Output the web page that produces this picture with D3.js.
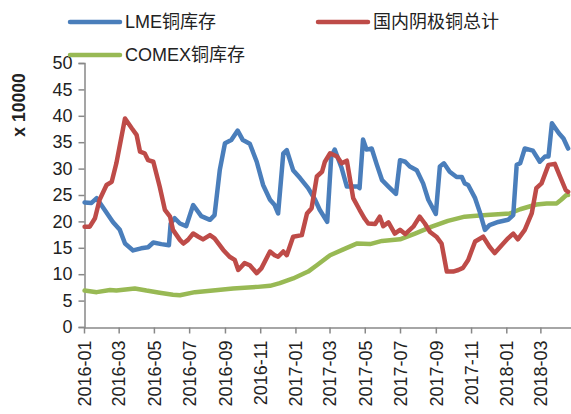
<!DOCTYPE html>
<html>
<head>
<meta charset="utf-8">
<script src="https://cdn.jsdelivr.net/npm/d3@7"></script>
<style>
  body { margin: 0; background: #fff; }
  svg { display: block; font-family: "Liberation Sans", Arial, sans-serif; }
</style>
</head>
<body>
<svg id="chart" width="571" height="414"></svg>
<script>
// series names
const seriesNames = ["LME铜库存", "国内阴极铜总计", "COMEX铜库存"];

// LME (blue)
const lmeDates = ["2016-01-02","2016-01-14","2016-01-23","2016-01-31","2016-02-20","2016-03-03","2016-03-12","2016-03-26","2016-04-09","2016-04-21","2016-04-30","2016-05-14","2016-05-27","2016-05-30","2016-06-06","2016-06-15","2016-06-26","2016-07-08","2016-07-22","2016-08-06","2016-08-14","2016-08-23","2016-09-01","2016-09-12","2016-09-23","2016-10-02","2016-10-14","2016-10-26","2016-11-06","2016-11-18","2016-11-26","2016-12-02","2016-12-11","2016-12-17","2016-12-28","2017-01-09","2017-01-23","2017-02-04","2017-02-12","2017-02-25","2017-03-04","2017-03-10","2017-03-22","2017-03-31","2017-04-19","2017-04-22","2017-04-28","2017-05-04","2017-05-13","2017-05-22","2017-05-31","2017-06-11","2017-06-24","2017-07-01","2017-07-10","2017-07-18","2017-07-30","2017-08-10","2017-08-19","2017-09-01","2017-09-08","2017-09-15","2017-09-25","2017-10-07","2017-10-16","2017-10-21","2017-10-27","2017-11-08","2017-11-16","2017-11-25","2017-12-03","2017-12-18","2018-01-04","2018-01-13","2018-01-19","2018-01-25","2018-02-02","2018-02-16","2018-02-28","2018-03-09","2018-03-15","2018-03-21","2018-04-02","2018-04-10","2018-04-18"];
const lmeValues = [23.6,23.5,24.4,23.1,19.9,18.4,15.8,14.5,14.9,15.1,16.0,15.7,15.5,19.6,20.6,19.6,19.1,23.1,21.0,20.3,21.2,29.7,34.8,35.4,37.2,35.4,34.7,31.3,26.9,24.1,23.1,21.5,32.9,33.5,29.7,28.2,26.3,24.1,22.2,19.9,32.3,33.6,30.1,26.6,26.6,26.3,35.5,33.6,33.8,30.7,27.8,26.6,25.2,31.6,31.3,30.4,29.7,27.2,24.1,21.4,30.4,31.0,29.4,28.4,28.4,27.2,26.9,24.4,21.8,18.4,19.3,19.9,20.3,21.2,30.7,31.0,33.8,33.4,31.3,32.3,32.3,38.6,36.7,35.7,33.8];

// 国内阴极铜总计 (red)
const cnDates = ["2016-01-02","2016-01-11","2016-01-20","2016-01-28","2016-02-09","2016-02-18","2016-02-26","2016-03-12","2016-03-24","2016-04-01","2016-04-07","2016-04-15","2016-04-21","2016-04-30","2016-05-11","2016-05-20","2016-05-29","2016-06-03","2016-06-15","2016-06-21","2016-06-29","2016-07-08","2016-07-17","2016-07-25","2016-08-06","2016-08-14","2016-08-29","2016-09-09","2016-09-18","2016-09-24","2016-10-05","2016-10-14","2016-10-26","2016-11-03","2016-11-18","2016-11-26","2016-12-02","2016-12-11","2016-12-17","2016-12-28","2017-01-12","2017-01-21","2017-01-29","2017-02-07","2017-02-16","2017-02-21","2017-03-02","2017-03-14","2017-03-22","2017-03-31","2017-04-11","2017-04-22","2017-05-01","2017-05-07","2017-05-19","2017-05-27","2017-06-02","2017-06-11","2017-06-22","2017-07-01","2017-07-10","2017-07-24","2017-08-04","2017-08-13","2017-08-22","2017-09-02","2017-09-11","2017-09-20","2017-10-01","2017-10-10","2017-10-18","2017-10-27","2017-11-08","2017-11-22","2017-12-03","2017-12-12","2017-12-24","2018-01-04","2018-01-13","2018-01-21","2018-02-02","2018-02-14","2018-02-22","2018-03-03","2018-03-15","2018-03-26","2018-04-04","2018-04-14","2018-04-18"];
const cnValues = [19.0,19.0,20.6,24.1,26.9,27.5,31.0,39.5,37.6,36.4,33.2,32.9,31.6,31.3,26.6,22.2,20.9,18.4,16.5,15.8,16.5,17.7,17.1,16.6,17.4,16.8,14.6,13.3,12.7,10.8,12.1,11.7,10.2,11.1,14.3,13.6,13.3,14.3,13.6,17.1,17.4,21.5,22.5,28.5,29.4,31.3,32.9,32.3,31.0,31.5,24.4,22.2,20.5,19.6,19.5,20.9,19.1,19.8,17.7,18.4,17.6,19.0,20.9,19.6,18.0,17.1,15.8,10.5,10.5,10.8,11.2,12.7,16.2,17.1,15.2,14.0,15.5,16.8,17.7,16.6,18.4,21.5,26.3,27.2,30.7,30.9,28.5,25.9,25.6];

// COMEX (green)
const comexDates = ["2016-01-02","2016-01-23","2016-02-15","2016-02-26","2016-03-29","2016-04-18","2016-05-11","2016-06-03","2016-06-15","2016-07-11","2016-08-20","2016-09-15","2016-10-28","2016-11-18","2016-12-05","2016-12-28","2017-01-23","2017-02-07","2017-03-02","2017-03-25","2017-04-17","2017-05-10","2017-05-31","2017-07-01","2017-07-27","2017-08-25","2017-09-22","2017-10-21","2017-11-05","2017-11-28","2018-01-07","2018-01-25","2018-02-22","2018-03-12","2018-03-29","2018-04-06","2018-04-15","2018-04-18"];
const comexValues = [6.9,6.6,7.0,6.9,7.3,6.9,6.5,6.1,6.0,6.6,7.0,7.3,7.6,7.8,8.3,9.2,10.5,11.7,13.6,14.7,15.8,15.7,16.3,16.6,17.7,19.0,20.1,20.9,21.0,21.2,21.5,22.3,23.2,23.4,23.4,24.1,25.0,25.0];

// y ticks and x tick labels
const yTicks = [0, 5, 10, 15, 20, 25, 30, 35, 40, 45, 50];
const xTickLabels = ["2016-01","2016-03","2016-05","2016-07","2016-09","2016-11","2017-01","2017-03","2017-05","2017-07","2017-09","2017-11","2018-01","2018-03"];

const colors = ["#4A7EBB", "#BE4B48", "#98B954"];

const parse = d3.timeParse("%Y-%m-%d");
const parseMonth = d3.timeParse("%Y-%m");

let chart = d3.select("#chart");

// Scales
const xScale = d3.scaleTime()
      .domain([parse("2016-01-01"), parse("2018-04-23")])
      .range([84, 571]);

const yScale = d3.scaleLinear()
      .domain([0, 50])
      .range([327, 63]);

const axisColor = "#888";

// Y axis
const yAxisG = chart.append("g")
      .attr("transform", "translate(84.5,0)")
      .call(d3.axisLeft(yScale).tickValues(yTicks).tickSize(6).tickPadding(6));
yAxisG.select(".domain").attr("stroke", axisColor).attr("stroke-width", 1.5);
yAxisG.selectAll(".tick line").attr("stroke", axisColor).attr("stroke-width", 1.5);
yAxisG.selectAll(".tick text")
      .attr("font-size", "18px")
      .attr("font-family", "Liberation Sans, Arial, sans-serif")
      .attr("fill", "#222");

// X axis
const xAxisG = chart.append("g")
      .attr("transform", "translate(0,327.5)")
      .call(d3.axisBottom(xScale)
            .tickValues(xTickLabels.map(parseMonth))
            .tickFormat(d3.timeFormat("%Y-%m"))
            .tickSize(6)
            .tickSizeOuter(0));
xAxisG.select(".domain").attr("stroke", axisColor).attr("stroke-width", 1.5);
xAxisG.selectAll(".tick line").attr("stroke", axisColor).attr("stroke-width", 1.5);
xAxisG.selectAll(".tick text")
      .attr("font-size", "18px")
      .attr("font-family", "Liberation Sans, Arial, sans-serif")
      .attr("fill", "#222")
      .attr("text-anchor", "end")
      .attr("transform", "rotate(-90)")
      .attr("x", -13)
      .attr("y", 0)
      .attr("dy", "0.35em");

// y title
chart.append("text")
      .text("x 10000")
      .attr("transform", "translate(25,105) rotate(-90)")
      .attr("text-anchor", "middle")
      .attr("font-size", "17.5px")
      .attr("font-weight", "bold")
      .attr("fill", "#222");

// Lines
const series = [
      { dates: lmeDates, values: lmeValues },
      { dates: cnDates, values: cnValues },
      { dates: comexDates, values: comexValues }
];

const line = d3.line()
      .x(d => xScale(d[0]))
      .y(d => yScale(d[1]));

// draw green first, then blue, red on top
[2, 0, 1].forEach(i => {
      let s = series[i];
      let pts = s.dates.map((d, k) => [parse(d), s.values[k]]);
      chart.append("path")
            .datum(pts)
            .attr("fill", "none")
            .attr("stroke", colors[i])
            .attr("stroke-width", 4.5)
            .attr("stroke-linejoin", "round")
            .attr("stroke-linecap", "round")
            .attr("d", line);
});

// Legend
const legendPos = [[70, 22], [318, 22], [70, 55]];
seriesNames.forEach((name, i) => {
      let p = legendPos[i];
      chart.append("line")
            .attr("x1", p[0]).attr("x2", p[0] + 50)
            .attr("y1", p[1]).attr("y2", p[1])
            .attr("stroke", colors[i])
            .attr("stroke-width", 4.5)
            .attr("stroke-linecap", "round");
      chart.append("text")
            .text(name)
            .attr("x", p[0] + 55)
            .attr("y", p[1])
            .attr("dy", "0.35em")
            .attr("font-size", "18px")
            .attr("font-family", "Liberation Sans, 'Noto Sans CJK SC', sans-serif")
            .attr("fill", "#222");
});
</script>
</body>
</html>
